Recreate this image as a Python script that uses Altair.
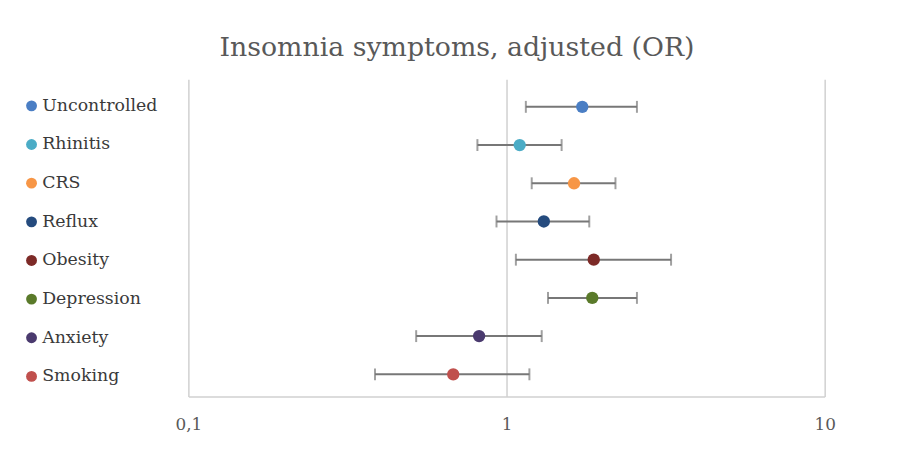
import altair as alt
import pandas as pd

categories = ["Uncontrolled", "Rhinitis", "CRS", "Reflux", "Obesity", "Depression", "Anxiety", "Smoking"]
odds_ratio = [1.73, 1.10, 1.63, 1.31, 1.88, 1.86, 0.82, 0.68]
ci_low = [1.15, 0.81, 1.20, 0.93, 1.07, 1.35, 0.52, 0.386]
ci_high = [2.57, 1.49, 2.20, 1.82, 3.29, 2.57, 1.29, 1.18]
colors = ["#4A7EC4", "#4BACC6", "#F79646", "#254B7E", "#7D2A27", "#5A7A2A", "#4A3A6E", "#C0504D"]
x_ticks = [0.1, 1, 10]

df = pd.DataFrame({
    "cat": categories,
    "or": odds_ratio,
    "lo": ci_low,
    "hi": ci_high,
    "pos": [len(categories) - i for i in range(len(categories))],
})

FONT = "DejaVu Serif"
xscale = alt.Scale(type="log", domain=[0.1, 10])
yscale = alt.Scale(domain=[0.42, 8.72])

x_axis = alt.Axis(
    values=x_ticks,
    labelExpr="replace(toString(datum.value), '.', ',')",
    title=None,
    grid=True,
    gridColor="#d0d0d0",
    gridWidth=1.5,
    domainColor="#d0d0d0",
    domainWidth=1.5,
    ticks=False,
    labelFont=FONT,
    labelFontSize=17,
    labelColor="#595959",
    labelPadding=20,
    labelFlush=False,
)

base = alt.Chart(df)

rule = base.mark_rule(color="#777777", strokeWidth=2).encode(
    x=alt.X("lo:Q", scale=xscale, axis=x_axis),
    x2="hi:Q",
    y=alt.Y("pos:Q", scale=yscale, axis=None),
)
cap_lo = base.mark_tick(orient="vertical", color="#777777", size=12, thickness=2).encode(
    x=alt.X("lo:Q", scale=xscale),
    y=alt.Y("pos:Q", scale=yscale, axis=None),
)
cap_hi = base.mark_tick(orient="vertical", color="#777777", size=12, thickness=2).encode(
    x=alt.X("hi:Q", scale=xscale),
    y=alt.Y("pos:Q", scale=yscale, axis=None),
)
points = base.mark_circle(size=155, opacity=1).encode(
    x=alt.X("or:Q", scale=xscale),
    y=alt.Y("pos:Q", scale=yscale, axis=None),
    color=alt.Color(
        "cat:N",
        scale=alt.Scale(domain=categories, range=colors),
        legend=alt.Legend(
            title=None,
            orient="none",
            legendX=-167,
            legendY=18,
            symbolType="circle",
            symbolSize=120,
            symbolStrokeWidth=0,
            labelFont=FONT,
            labelFontSize=17.5,
            labelColor="#3a3a3a",
            labelOffset=2,
            rowPadding=20,
        ),
    ),
)

chart = alt.layer(rule, cap_lo, cap_hi, points).properties(
    width=642,
    height=320,
    background="white",
    title=alt.TitleParams(
        "Insomnia symptoms, adjusted (OR)",
        font=FONT,
        fontSize=27,
        fontWeight="normal",
        color="#595959",
        anchor="middle",
        dx=-50,
        offset=18,
    ),
    autosize=alt.AutoSizeParams(type="none"),
    padding={"left": 182, "top": 70, "right": 75, "bottom": 50},
).configure_view(strokeWidth=0, stroke="transparent")

chart.save("out.html", embed_options={"renderer": "svg", "actions": False})
